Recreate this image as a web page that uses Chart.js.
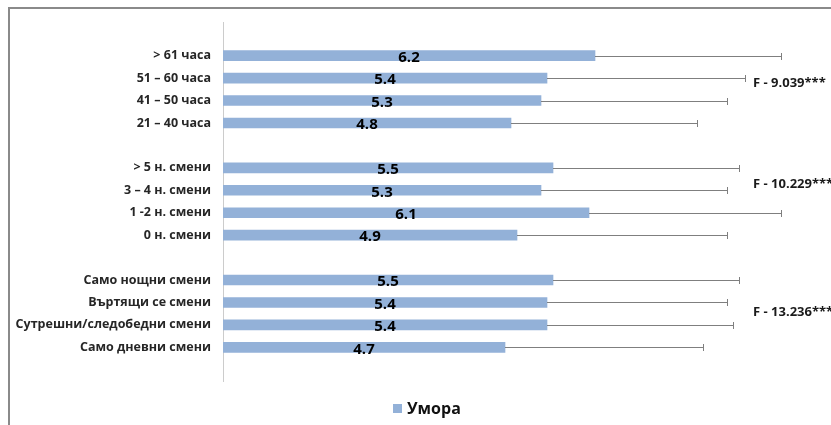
<!DOCTYPE html>
<html lang="bg">
<head>
    <meta charset="UTF-8">
    <title>Умора</title>
    <script src="https://cdn.jsdelivr.net/npm/chart.js"></script>
    <style>
        html, body { margin: 0; padding: 0; background: #fff; overflow: hidden; }
        .wrap { position: relative; width: 831px; height: 425px; }
        .frame {
            position: absolute; left: 8px; top: 7px; width: 900px; height: 500px;
            border-top: 2px solid #8a8a8a; border-left: 2px solid #8a8a8a;
        }
        canvas { position: absolute; left: 0; top: 0; }
    </style>
</head>
<body>
    <div class="wrap">
        <div class="frame"></div>
        <canvas id="chart" width="831" height="425"></canvas>
    </div>

    <script>
        // Категории (празните низове са разделители между групите)
        const categories = [
            '', '> 61 часа', '51 – 60 часа', '41 – 50 часа', '21 – 40 часа',
            '', '> 5 н. смени', '3 – 4 н. смени', '1 -2 н. смени', '0 н. смени',
            '', 'Само нощни смени', 'Въртящи се смени', 'Сутрешни/следобедни смени', 'Само дневни смени', ''
        ];
        // Средна стойност на умората
        const fatigue = [null, 6.2, 5.4, 5.3, 4.8, null, 5.5, 5.3, 6.1, 4.9, null, 5.5, 5.4, 5.4, 4.7, null];
        // Стандартно отклонение (горна граница на грешката)
        const fatigueSD = [null, 3.1, 3.3, 3.1, 3.1, null, 3.1, 3.1, 3.2, 3.5, null, 3.1, 3.0, 3.1, 3.3, null];
        // F-статистики за трите групи
        const fTests = ['F - 9.039***', 'F - 10.229***', 'F - 13.236***'];

        const barColor = '#93b1d8';

        // Грешки, стойности, F-етикети и легенда
        const extras = {
            id: 'extras',
            afterDatasetsDraw(chart) {
                const { ctx, scales: { x, y } } = chart;
                const meta = chart.getDatasetMeta(0);
                ctx.save();

                // error bars
                ctx.strokeStyle = '#7f7f7f';
                ctx.lineWidth = 1;
                meta.data.forEach((bar, i) => {
                    if (fatigue[i] == null) return;
                    const x0 = Math.round(bar.x);
                    const x1 = Math.round(x.getPixelForValue(fatigue[i] + fatigueSD[i])) + 0.5;
                    const yy = Math.round(bar.y) + 0.5;
                    ctx.beginPath();
                    ctx.moveTo(x0, yy);
                    ctx.lineTo(x1, yy);
                    ctx.moveTo(x1, yy - 3.5);
                    ctx.lineTo(x1, yy + 3.5);
                    ctx.stroke();
                });

                // стойности в средата на лентите
                ctx.fillStyle = '#000';
                ctx.font = 'bold 15px "Open Sans", sans-serif';
                ctx.textAlign = 'center';
                ctx.textBaseline = 'middle';
                meta.data.forEach((bar, i) => {
                    if (fatigue[i] == null) return;
                    ctx.fillText(fatigue[i].toFixed(1), (bar.base + bar.x) / 2, bar.y + 2);
                });

                // F-етикети вдясно от групите
                ctx.fillStyle = '#1a1a1a';
                ctx.font = 'bold 13px "Open Sans", sans-serif';
                ctx.textAlign = 'left';
                const rows = [2.25, 6.73, 12.45];
                fTests.forEach((t, k) => {
                    const y0 = y.getPixelForValue(Math.floor(rows[k]));
                    const y1 = y.getPixelForValue(Math.floor(rows[k]) + 1);
                    const yy = y0 + (y1 - y0) * (rows[k] % 1);
                    ctx.fillText(t, 753, yy);
                });

                // легенда
                const ds = chart.data.datasets[0];
                ctx.fillStyle = ds.backgroundColor;
                ctx.fillRect(393, 404, 9, 9);
                ctx.fillStyle = '#111';
                ctx.font = 'bold 16px "Open Sans", sans-serif';
                ctx.fillText(ds.label, 407, 409);

                ctx.restore();
            }
        };

        new Chart(document.getElementById('chart'), {
            type: 'bar',
            data: {
                labels: categories,
                datasets: [{
                    label: 'Умора',
                    data: fatigue,
                    backgroundColor: barColor,
                    barThickness: 10
                }]
            },
            options: {
                indexAxis: 'y',
                responsive: false,
                animation: false,
                layout: { padding: { top: 22, bottom: 44, right: 8, left: 0 } },
                plugins: {
                    legend: { display: false },
                    tooltip: { enabled: false }
                },
                scales: {
                    x: { display: false, min: 0, max: 10 },
                    y: {
                        afterFit: (s) => { s.width = 223; },
                        grid: { display: false, drawTicks: false },
                        border: { display: true, color: '#cccccc', width: 1 },
                        ticks: {
                            autoSkip: false,
                            padding: 12,
                            color: '#262626',
                            font: { family: '"Open Sans", sans-serif', size: 12.5, weight: 'bold' }
                        }
                    }
                }
            },
            plugins: [extras]
        });
    </script>
</body>
</html>
